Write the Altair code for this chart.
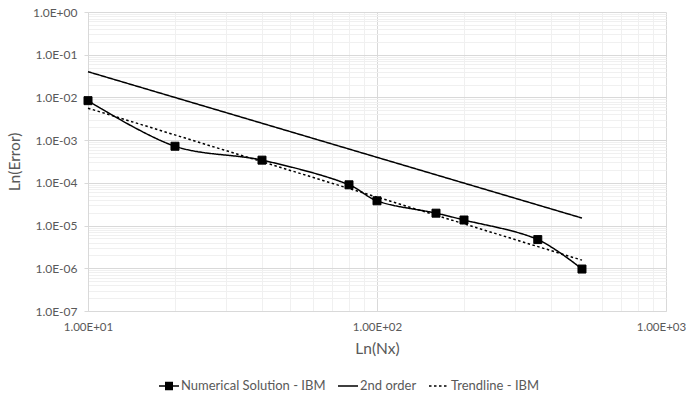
import altair as alt
import pandas as pd

# Numerical solution (IBM)
nx_num = [10, 20, 40, 80, 100, 160, 200, 360, 512]
err_num = [8.4e-3, 7.2e-4, 3.4e-4, 9.0e-5, 3.8e-5, 1.95e-5, 1.35e-5, 4.7e-6, 9.6e-7]
# 2nd order reference line
nx_ord = [10, 512]
err_ord = [4.0e-2, 1.5e-5]
# Power trendline
nx_trd = [10, 512]
err_trd = [5.6e-3, 1.55e-6]

series = ["Numerical Solution - IBM", "2nd order", "Trendline - IBM"]

y_decades = [1e-7, 1e-6, 1e-5, 1e-4, 1e-3, 1e-2, 1e-1, 1.0]
y_labels = ["1.0E-07", "1.0E-06", "1.0E-05", "1.0E-04", "1.0E-03", "1.0E-02", "1.0E-01", "1.0E+00"]
x_decades = [10, 100, 1000]
x_labels = ["1.00E+01", "1.00E+02", "1.00E+03"]

y_ticks = sorted(set([round(m * d, 12) for d in y_decades[:-1] for m in range(1, 10)] + [1.0]))
x_ticks = sorted(set([m * d for d in x_decades[:-1] for m in range(1, 10)] + [1000]))

rows = []
for name, xs, ys in [(series[0], nx_num, err_num), (series[1], nx_ord, err_ord), (series[2], nx_trd, err_trd)]:
    for a, b in zip(xs, ys):
        rows.append({"nx": a, "err": b, "series": name})
df = pd.DataFrame(rows)

FONT = "Lato"
TXT = "#595959"

def lbl_expr(labels, offset):
    arr = "[" + ",".join("'%s'" % s for s in labels) + "]"
    return ("abs(log(datum.value)/LN10 - round(log(datum.value)/LN10)) < 0.001 ? "
            + arr + "[round(log(datum.value)/LN10)+" + str(offset) + "] : ''")

major_test = "abs(log(datum.value)/LN10 - round(log(datum.value)/LN10)) < 0.001"

x_enc = alt.X("nx:Q",
              scale=alt.Scale(type="log", domain=[10, 1000], nice=False),
              axis=alt.Axis(values=x_ticks, labelExpr=lbl_expr(x_labels, -1),
                            title="Ln(Nx)", labelOverlap=False, labelFlush=False,
                            labelOffset={"condition": {"test": "datum.value >= 999", "value": -5}, "value": 0},
                            gridColor={"condition": {"test": major_test, "value": "#d9d9d9"}, "value": "#f0f0f0"},
                            tickColor={"condition": {"test": major_test, "value": "#d9d9d9"}, "value": "transparent"},
                            tickSize=0, domainColor="#d9d9d9", labelFontSize=11.5,
                            labelPadding=10, titlePadding=9))
y_enc = alt.Y("err:Q",
              scale=alt.Scale(type="log", domain=[1e-7, 1], nice=False),
              axis=alt.Axis(values=y_ticks, labelExpr=lbl_expr(y_labels, 7),
                            title="Ln(Error)", labelOverlap=False, labelFlush=False,
                            gridColor={"condition": {"test": major_test, "value": "#d9d9d9"}, "value": "#f0f0f0"},
                            tickColor={"condition": {"test": major_test, "value": "#d9d9d9"}, "value": "transparent"},
                            tickSize=4, domainColor="#d9d9d9",
                            labelPadding=7, titlePadding=10))

legend = alt.Legend(title=None, orient="none", direction="horizontal",
                    legendX=70, legendY=363, symbolSize=400,
                    symbolStrokeColor="black",
                    symbolStrokeWidth=1.5, labelFont=FONT, labelFontSize=13,
                    labelColor=TXT, labelOffset=1, columnPadding=9)

dash_scale = alt.Scale(domain=series, range=[[1, 0], [1, 0], [2.5, 2.5]])
# legend symbols: a line, with a filled square (drawn by stacked strokes) for the numerical series
sq = "".join("M-0.4,%.2fH0.4" % (v / 100) for v in range(-35, 40, 10))
paths = ["M-1,0H1" + sq, "M-1,0H1", "M-1,0H1"]

lines = alt.Chart(df).mark_line(color="black", interpolate="catmull-rom").encode(
    x=x_enc, y=y_enc,
    strokeDash=alt.StrokeDash("series:N", scale=dash_scale, legend=legend),
    strokeWidth=alt.StrokeWidth("series:N", scale=alt.Scale(domain=series, range=[1.5, 1.5, 2.5]), legend=None),
)

points = alt.Chart(df).transform_filter(
    alt.datum.series == series[0]
).mark_point(shape="square", filled=True, color="black", size=64, opacity=1,
             stroke="black", strokeWidth=1).encode(x=x_enc, y=y_enc)

ghost = alt.Chart(df).mark_point(opacity=0, filled=False, color="black").encode(
    x=x_enc, y=y_enc,
    shape=alt.Shape("series:N", scale=alt.Scale(domain=series, range=paths), legend=legend),
)

chart = alt.layer(lines, points, ghost).properties(
    width=578, height=299,
    autosize=alt.AutoSizeParams(type="none"),
    padding={"left": 88, "top": 12, "right": 22, "bottom": 82},
    background="white",
).configure_axis(
    labelFont=FONT, labelFontSize=12, labelColor=TXT,
    titleFont=FONT, titleFontSize=15.5, titleColor=TXT, titleFontWeight="normal",
).configure_view(stroke=None)

chart.save("out.html", embed_options={"renderer": "svg", "actions": False})
